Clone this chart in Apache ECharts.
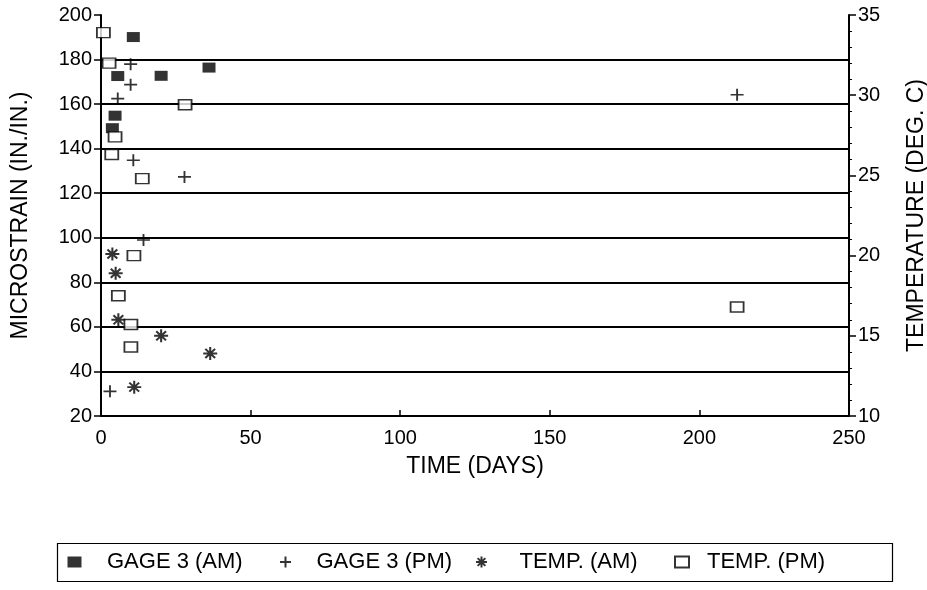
<!DOCTYPE html>
<html>
<head>
<meta charset="utf-8">
<script src="https://cdn.jsdelivr.net/npm/echarts@6/dist/echarts.min.js"></script>
<style>
html,body{margin:0;padding:0;background:#fff;}
#chart{width:927px;height:590px;}
</style>
</head>
<body>
<div id="chart"></div>
<script>
// ---- Data (days, value) ----
var gageAM = [[3.8,149.2],[4.7,154.8],[5.6,172.6],[10.8,190.1],[20.1,172.7],[36.1,176.4]];
var gagePM = [[3.0,31.1],[5.6,162.5],[9.9,177.9],[9.9,168.7],[10.8,134.8],[14.2,99.0],[27.9,127.3],[212.6,164.2]];
var tempAM = [[3.8,20.1],[4.9,18.9],[5.8,16.0],[11.1,11.8],[20.1,15.0],[36.5,13.9]];
var tempPM = [[0.8,33.9],[2.7,32.0],[3.6,26.3],[4.7,27.4],[5.8,17.5],[10.0,15.7],[10.0,14.3],[11.0,20.0],[13.8,24.8],[28.1,29.4],[212.6,16.8]];
var seriesNames = ['GAGE 3 (AM)','GAGE 3 (PM)','TEMP. (AM)','TEMP. (PM)'];
var xTitle = 'TIME (DAYS)';
var yLeftTitle = 'MICROSTRAIN (IN./IN.)';
var yRightTitle = 'TEMPERATURE (DEG. C)';

var FONT = '"Liberation Sans", Arial, sans-serif';
var plusPath = 'path://M0,5L10,5M5,0L5,10';
var starPath = 'path://M0,5L10,5M5,0L5,10M1.5,1.5L8.5,8.5M1.5,8.5L8.5,1.5';

var chart = echarts.init(document.getElementById('chart'));

function legendAt(name, left, pad){
  return {
    data:[name], left:left, top:549, padding:0, itemWidth:14, itemHeight:11,
    textStyle:{fontFamily:FONT, fontSize:22, color:'#000', padding:[0,0,0,pad], lineHeight:26}
  };
}

var option = {
  animation:false,
  backgroundColor:'#fff',
  grid:{left:101, right:78, top:15, bottom:174, containLabel:false, outerBoundsMode:'none'},
  graphic:[{type:'rect', left:55, top:541, shape:{width:835, height:38},
            style:{fill:'none', stroke:'#000', lineWidth:1.2}, silent:true}],
  legend:[
    legendAt(seriesNames[0], 67.5, 20.5),
    legendAt(seriesNames[1], 279, 19),
    legendAt(seriesNames[2], 475, 26),
    legendAt(seriesNames[3], 674, 13)
  ],
  xAxis:{
    type:'value', min:0, max:250, interval:50,
    name:xTitle, nameLocation:'middle', nameGap:39,
    nameTextStyle:{fontFamily:FONT, fontSize:23, color:'#000'},
    axisLine:{show:true, onZero:false, lineStyle:{color:'#000', width:2}},
    axisTick:{show:true, inside:true, length:6, lineStyle:{color:'#000', width:1.5}},
    axisLabel:{fontFamily:FONT, fontSize:20, color:'#000', margin:12},
    splitLine:{show:false}
  },
  yAxis:[{
    type:'value', min:20, max:200, interval:20, position:'left',
    name:yLeftTitle, nameLocation:'middle', nameGap:69, nameRotate:90,
    nameTextStyle:{fontFamily:FONT, fontSize:23, color:'#000'},
    axisLine:{show:true, onZero:false, lineStyle:{color:'#000', width:2}},
    axisTick:{show:true, inside:false, length:7, lineStyle:{color:'#000', width:1.5}},
    axisLabel:{fontFamily:FONT, fontSize:20, color:'#000', margin:9},
    splitLine:{show:true, showMinLine:false, showMaxLine:false, lineStyle:{color:'#000', width:1.8}}
  },{
    type:'value', min:10, max:35, interval:5, position:'right',
    name:yRightTitle, nameLocation:'middle', nameGap:56, nameRotate:90,
    nameTextStyle:{fontFamily:FONT, fontSize:23, color:'#000'},
    axisLine:{show:true, onZero:false, lineStyle:{color:'#000', width:2}},
    axisTick:{show:true, inside:false, length:7, lineStyle:{color:'#000', width:1.5}},
    minorTick:{show:true, splitNumber:5, length:3, lineStyle:{color:'#000', width:1}},
    axisLabel:{fontFamily:FONT, fontSize:20, color:'#000', margin:9},
    splitLine:{show:false}
  }],
  series:[{
    name:seriesNames[0], type:'scatter', yAxisIndex:0, data:gageAM,
    symbol:'rect', symbolSize:[13,10], itemStyle:{color:'#000'}
  },{
    name:seriesNames[1], type:'scatter', yAxisIndex:0, data:gagePM,
    symbol:plusPath, symbolSize:[13,12],
    itemStyle:{color:'rgba(0,0,0,0)', borderColor:'#000', borderWidth:1.8}
  },{
    name:seriesNames[2], type:'scatter', yAxisIndex:1, data:tempAM,
    symbol:starPath, symbolSize:[14,13],
    itemStyle:{color:'rgba(0,0,0,0)', borderColor:'#000', borderWidth:2}
  },{
    name:seriesNames[3], type:'scatter', yAxisIndex:1, data:tempPM,
    symbol:'rect', symbolSize:[13,10],
    itemStyle:{color:'#fff', borderColor:'#000', borderWidth:1.6}
  }]
};
chart.setOption(option);
</script>
</body>
</html>
